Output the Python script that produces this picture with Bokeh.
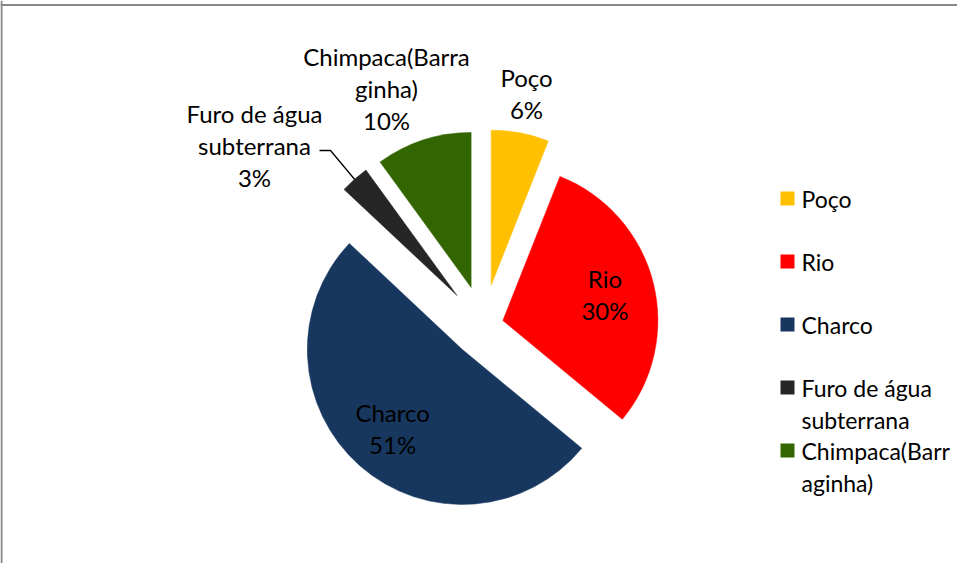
import math
from bokeh.plotting import figure
from bokeh.models import Range1d, Span
from bokeh.core.properties import value
from bokeh.embed import file_html
from bokeh.resources import INLINE

# ---------------- data ----------------
categories = ["Poço", "Rio", "Charco", "Furo de água subterrana", "Chimpaca(Barraginha)"]
shares = [6, 30, 51, 3, 10]
slice_labels = ["Poço", "Rio", "Charco", "Furo de água\nsubterrana", "Chimpaca(Barra\nginha)"]
legend_labels = ["Poço", "Rio", "Charco", "Furo de água\nsubterrana", "Chimpaca(Barr\naginha)"]
colors = ["#FFC000", "#FF0000", "#17375E", "#262626", "#336600"]

# ---------------- style / layout ----------------
W, H = 957, 563
FONT = "Lato"
FSIZE = "24px"
LEG_FSIZE = "23px"
LINE_H = 32
R = 155
explode = [41, 20, 32, 40, 40]
# page pixel -> data coords (figure placed at page (8, 8))
def X(sx): return sx - 8
def Y(sy): return H + 8 - sy

CX, CY = X(491), Y(333)

p = figure(width=W, height=H, output_backend="svg", toolbar_location=None,
           x_range=Range1d(0, W), y_range=Range1d(0, H),
           x_axis_type=None, y_axis_type=None, min_border=0,
           background_fill_color="white", border_fill_color="white")
p.grid.visible = False
p.outline_line_color = None

# chart-area border (left and top, as in the source)
p.add_layout(Span(location=X(9), dimension="height", line_color="#878787", line_width=2))
p.add_layout(Span(location=Y(12.5), dimension="width", line_color="#878787", line_width=2))

total = float(sum(shares))
cum = 0.0
centres = []
mids = []
for i, v in enumerate(shares):
    a = cum / total
    b = (cum + v) / total
    cum += v
    start = math.pi / 2 - 2 * math.pi * b
    end = math.pi / 2 - 2 * math.pi * a
    mid = math.pi / 2 - math.pi * (a + b)
    cx = CX + explode[i] * math.cos(mid)
    cy = CY + explode[i] * math.sin(mid)
    centres.append((cx, cy))
    mids.append(mid)
    p.wedge(x=cx, y=cy, radius=R, start_angle=start, end_angle=end,
            fill_color=colors[i], line_color=colors[i], line_width=0.5)

pct = [f"{round(100 * v / total)}%" for v in shares]

def draw_lines(lines, x, y_top_center, align="center", size=FSIZE):
    for k, t in enumerate(lines):
        p.text(x=[x], y=[y_top_center - k * LINE_H], text=[t],
               text_font=value(FONT), text_font_size=size, text_color="#000000",
               text_align=align, text_baseline="middle")

# data labels
outside = {0: (X(534), Y(85)), 3: (X(262), Y(121)), 4: (X(394), Y(64))}
for i in range(len(shares)):
    lines = slice_labels[i].split("\n") + [pct[i]]
    if i in outside:
        lx, ly = outside[i]
        draw_lines(lines, lx, ly)
    else:
        cx, cy = centres[i]
        rr = 0.68 * R
        bx = cx + rr * math.cos(mids[i])
        by = cy + rr * math.sin(mids[i])
        draw_lines(lines, bx, by + LINE_H * (len(lines) - 1) / 2)

# leader line for the small slice
fi = 3
ex = centres[fi][0] + R * math.cos(mids[fi])
ey = centres[fi][1] + R * math.sin(mids[fi])
p.line(x=[X(327), X(338), ex], y=[Y(158), Y(158), ey], line_color="#000000", line_width=1.3)

# legend
for i, lab in enumerate(legend_labels):
    sy = 206 + 63 * i
    p.rect(x=[X(795)], y=[Y(sy)], width=14, height=14, fill_color=colors[i], line_color=None)
    draw_lines(lab.split("\n"), X(809), Y(sy), align="left", size=LEG_FSIZE)

open("out.html", "w").write(file_html(p, INLINE))
